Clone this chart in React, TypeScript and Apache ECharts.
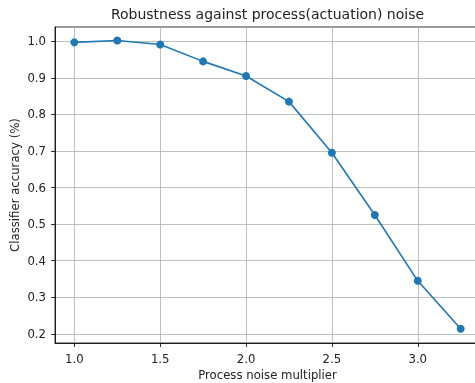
import React, { useEffect, useRef } from "react";
import * as echarts from "echarts";

const noiseMultipliers = [1.0, 1.25, 1.5, 1.75, 2.0, 2.25, 2.5, 2.75, 3.0, 3.25];
const accuracy = [0.997, 1.002, 0.991, 0.945, 0.905, 0.835, 0.695, 0.525, 0.345, 0.214];
const xTicks = [1.0, 1.5, 2.0, 2.5, 3.0];
const yTicks = [0.2, 0.3, 0.4, 0.5, 0.6, 0.7, 0.8, 0.9, 1.0];
const titleText = "Robustness against process(actuation) noise";
const xName = "Process noise multiplier";
const yName = "Classifier accuracy (%)";

const FONT = "DejaVu Sans";
const TXT = "#222";
const FS = 11.7;

export default function App() {
  const ref = useRef<HTMLDivElement>(null);
  useEffect(() => {
    if (!ref.current) return;
    const chart = echarts.init(ref.current, null, { renderer: "svg" });
    const axisCommon = {
      type: "value" as const,
      axisLine: { show: true, onZero: false, lineStyle: { color: "#000", width: 0.8 } },
      axisTick: { show: true, inside: false, length: 4, lineStyle: { color: "#000", width: 0.8 } },
      splitLine: { show: true, lineStyle: { color: "#b0b0b0", width: 0.8 } },
      nameTextStyle: { fontFamily: FONT, fontSize: FS, color: TXT },
      nameMoveOverlap: false,
    };
    chart.setOption({
      animation: false,
      graphic: [
        {
          type: "text",
          x: 267.5,
          y: 13.5,
          style: {
            text: titleText,
            fontFamily: FONT,
            fontSize: 14,
            fill: TXT,
            textAlign: "center",
            textVerticalAlign: "middle",
          },
        },
      ],
      grid: {
        left: 55,
        top: 27,
        right: -5,
        bottom: 40,
        containLabel: false,
        outerBoundsMode: "none",
        show: true,
        borderColor: "#000",
        borderWidth: 0.8,
        backgroundColor: "transparent",
      },
      xAxis: {
        ...axisCommon,
        min: 0.8875,
        max: 3.3625,
        name: xName,
        nameLocation: "middle",
        nameGap: 25.5,
        axisTick: { ...axisCommon.axisTick, customValues: xTicks },
        axisLabel: {
          customValues: xTicks,
          formatter: (v: number) => v.toFixed(1),
          fontFamily: FONT,
          fontSize: FS,
          color: TXT,
          margin: 10,
        },
      },
      yAxis: {
        ...axisCommon,
        min: 0.175,
        max: 1.039,
        name: yName,
        nameLocation: "middle",
        nameGap: 34,
        axisTick: { ...axisCommon.axisTick, customValues: yTicks },
        axisLabel: {
          customValues: yTicks,
          formatter: (v: number) => v.toFixed(1),
          fontFamily: FONT,
          fontSize: FS,
          color: TXT,
          margin: 9,
        },
      },
      series: [
        {
          type: "line",
          data: noiseMultipliers.map((x, i) => [x, accuracy[i]]),
          symbol: "circle",
          symbolSize: 8,
          lineStyle: { color: "#1f77b4", width: 1.6 },
          itemStyle: { color: "#1f77b4" },
        },
      ],
    });
    return () => chart.dispose();
  }, []);
  return (
    <div
      ref={ref}
      style={{ position: "fixed", left: 0, top: 0, width: 475, height: 383 }}
    />
  );
}
